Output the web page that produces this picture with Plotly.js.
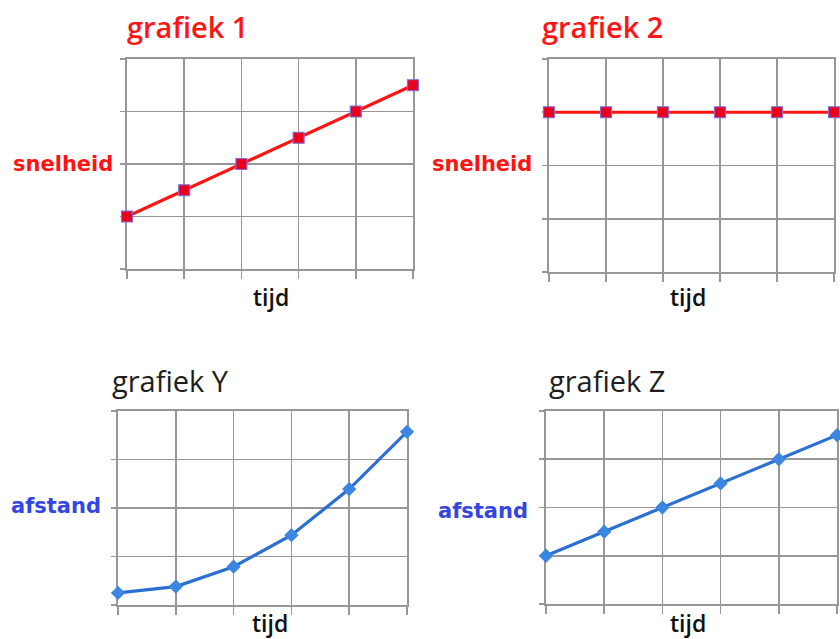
<!DOCTYPE html>
<html>
<head>
<meta charset="utf-8">
<script src="https://cdn.plot.ly/plotly-3.0.1.min.js"></script>
<style>
  html, body { margin: 0; padding: 0; background: #ffffff; }
  #chart { width: 840px; height: 639px; }
</style>
</head>
<body>
<div id="chart"></div>
<script>
// Time steps shared by all four panels
const tijd = [0, 1, 2, 3, 4, 5];

// Speed series (top row)
const snelheid1 = [1.0, 1.5, 2.0, 2.5, 3.0, 3.5];
const snelheid2 = [3.0, 3.0, 3.0, 3.0, 3.0, 3.0];

// Distance series (bottom row)
const afstandY = [0.25, 0.38, 0.79, 1.44, 2.39, 3.57];
const afstandZ = [1.0, 1.5, 2.0, 2.5, 3.0, 3.5];

// Panel titles and axis labels
const titels = ["grafiek 1", "grafiek 2", "grafiek Y", "grafiek Z"];
const xLabel = "tijd";
const yLabels = ["snelheid", "snelheid", "afstand", "afstand"];

const W = 840, H = 639;
const px = v => v / W;
const py = v => 1 - v / H;

const grid = '#979797';
const red = '#ff1414';
const blue = '#2a6fd2';
const labelBlue = '#3446e0';

function axisX(domain) {
  return {
    domain: domain, range: [0, 5], dtick: 1, tick0: 0,
    showgrid: true, gridcolor: grid, gridwidth: 1.7,
    showline: true, mirror: true, linecolor: grid, linewidth: 1.7,
    zeroline: false, showticklabels: false,
    ticks: 'outside', ticklen: 8, tickcolor: grid, tickwidth: 1.7,
    layer: 'below traces', fixedrange: true
  };
}
function axisY(domain) {
  return {
    domain: domain, range: [0, 4], dtick: 1, tick0: 0,
    showgrid: true, gridcolor: grid, gridwidth: 1.7,
    showline: true, mirror: true, linecolor: grid, linewidth: 1.7,
    zeroline: false, showticklabels: false,
    ticks: 'outside', ticklen: 5, tickcolor: grid, tickwidth: 1.7,
    layer: 'below traces', fixedrange: true
  };
}

const redMarker = { symbol: 'square', size: 11, color: '#e8001c', line: { color: '#7d6fe0', width: 1.2 } };
const blueMarker = { symbol: 'diamond', size: 11, color: '#3a86e0', line: { color: '#3a86e0', width: 0 } };

const traces = [
  { x: tijd, y: snelheid1, xaxis: 'x', yaxis: 'y', mode: 'lines+markers',
    line: { color: red, width: 3.2 }, marker: redMarker, cliponaxis: false },
  { x: tijd, y: snelheid2, xaxis: 'x2', yaxis: 'y2', mode: 'lines+markers',
    line: { color: red, width: 3.2 }, marker: redMarker, cliponaxis: false },
  { x: tijd, y: afstandY, xaxis: 'x3', yaxis: 'y3', mode: 'lines+markers',
    line: { color: blue, width: 3.2 }, marker: blueMarker, cliponaxis: false },
  { x: tijd, y: afstandZ, xaxis: 'x4', yaxis: 'y4', mode: 'lines+markers',
    line: { color: blue, width: 3.2 }, marker: blueMarker, cliponaxis: false }
];

function ann(text, x, y, font) {
  return { text: text, xref: 'paper', yref: 'paper', x: px(x), y: py(y),
           xanchor: 'center', yanchor: 'middle', showarrow: false, font: font };
}

const titleRed = { family: 'Open Sans', size: 29, color: red, weight: 600 };
const titleBlack = { family: 'Open Sans', size: 29, color: '#1e1e1e', weight: 400 };
const ySpeed = { family: 'DejaVu Sans', size: 21, color: red, weight: 700 };
const yDist = { family: 'DejaVu Sans', size: 21, color: labelBlue, weight: 700 };
const xFont = { family: 'Open Sans', size: 23, color: '#111111', weight: 600 };

const annotations = [
  ann(titels[0], 187, 27, titleRed),
  ann(titels[1], 602, 27, titleRed),
  ann(titels[2], 170, 380, titleBlack),
  ann(titels[3], 607, 380, titleBlack),
  ann(yLabels[0], 63, 164, ySpeed),
  ann(yLabels[1], 482, 164, ySpeed),
  ann(yLabels[2], 56, 506, yDist),
  ann(yLabels[3], 483, 511, yDist),
  ann(xLabel, 271, 297, xFont),
  ann(xLabel, 688, 297, xFont),
  ann(xLabel, 270, 623, xFont),
  ann(xLabel, 688, 623, xFont)
];

const layout = {
  width: W, height: H,
  margin: { l: 0, r: 0, t: 0, b: 0 },
  paper_bgcolor: '#ffffff', plot_bgcolor: '#ffffff',
  showlegend: false,
  xaxis:  Object.assign(axisX([px(127), px(413)]), { anchor: 'y' }),
  yaxis:  Object.assign(axisY([py(269), py(59)]), { anchor: 'x' }),
  xaxis2: Object.assign(axisX([px(549), px(834)]), { anchor: 'y2' }),
  yaxis2: Object.assign(axisY([py(272), py(59)]), { anchor: 'x2' }),
  xaxis3: Object.assign(axisX([px(118), px(407)]), { anchor: 'y3' }),
  yaxis3: Object.assign(axisY([py(605), py(411)]), { anchor: 'x3' }),
  xaxis4: Object.assign(axisX([px(546), px(837)]), { anchor: 'y4' }),
  yaxis4: Object.assign(axisY([py(604), py(411)]), { anchor: 'x4' }),
  annotations: annotations
};

Plotly.newPlot('chart', traces, layout, { displayModeBar: false, staticPlot: true });
</script>
</body>
</html>
